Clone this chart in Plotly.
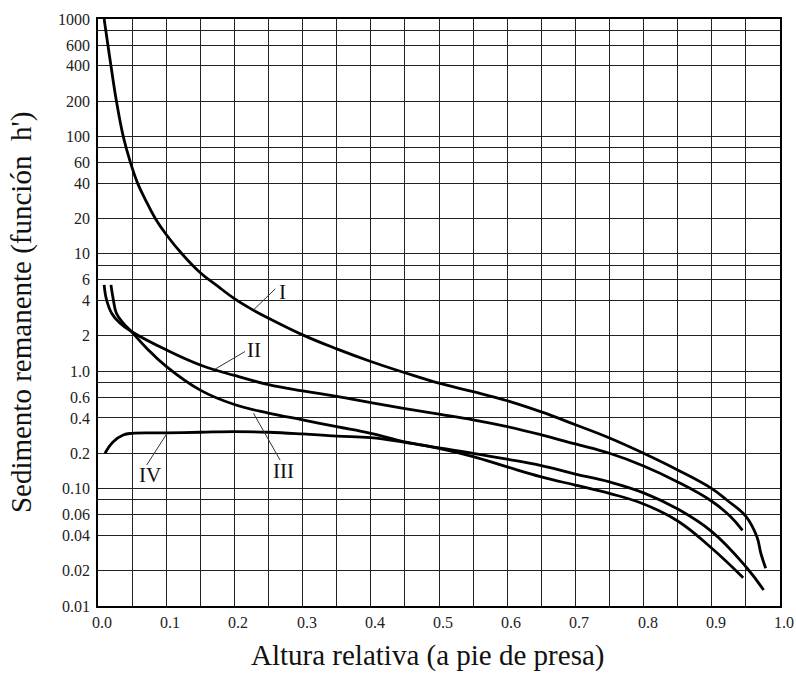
import math
import plotly.graph_objects as go

# ---------------- data ----------------
x_I = [0.009, 0.0145, 0.019, 0.027, 0.037, 0.0475, 0.058, 0.0694, 0.084, 0.1, 0.123,
       0.15, 0.176, 0.2, 0.225, 0.25, 0.3, 0.35, 0.4, 0.45, 0.5, 0.55, 0.6, 0.65, 0.7, 0.75,
       0.8, 0.85, 0.9, 0.922, 0.95, 0.966, 0.972, 0.979]
y_I = [1000, 600, 400, 200, 100, 60, 40, 29, 20, 14.6, 10,
       6.9, 5.27, 4.15, 3.38, 2.83, 2.04, 1.55, 1.21, 0.97, 0.79, 0.67, 0.56, 0.45, 0.35, 0.27,
       0.2, 0.144, 0.1, 0.08, 0.058, 0.039, 0.028, 0.021]

x_II = [0.009, 0.0125, 0.02, 0.032, 0.049, 0.1, 0.15, 0.2, 0.25, 0.3, 0.35, 0.4, 0.45,
        0.5, 0.55, 0.6, 0.65, 0.7, 0.75, 0.8, 0.85, 0.9, 0.927, 0.945]
y_II = [5.44, 4.06, 3.12, 2.57, 2.18, 1.52, 1.13, 0.92, 0.77, 0.68, 0.61, 0.54, 0.48,
        0.43, 0.385, 0.337, 0.287, 0.24, 0.20, 0.156, 0.114, 0.078, 0.058, 0.044]

x_III = [0.019, 0.0225, 0.027, 0.037, 0.049, 0.07, 0.1, 0.15, 0.2, 0.25, 0.3, 0.35, 0.4,
         0.45, 0.5, 0.55, 0.6, 0.65, 0.7, 0.75, 0.8, 0.85, 0.9, 0.946]
y_III = [5.44, 4.06, 3.12, 2.57, 2.18, 1.6, 1.1, 0.69, 0.52, 0.44, 0.385, 0.337, 0.296,
         0.25, 0.22, 0.187, 0.153, 0.126, 0.107, 0.091, 0.074, 0.053, 0.031, 0.0174]

x_IV = [0.0103, 0.022, 0.037, 0.05, 0.1, 0.15, 0.2, 0.25, 0.3, 0.35, 0.4, 0.45, 0.5,
        0.55, 0.6, 0.65, 0.7, 0.75, 0.8, 0.85, 0.9, 0.95, 0.976]
y_IV = [0.2, 0.25, 0.286, 0.296, 0.298, 0.302, 0.306, 0.302, 0.292, 0.28, 0.272, 0.248, 0.222,
        0.2, 0.178, 0.157, 0.133, 0.114, 0.092, 0.067, 0.043, 0.0216, 0.0137]

curve_names = ["I", "II", "III", "IV"]
label_x = [0.2706, 0.228, 0.2717, 0.0762]
label_y = [4.77, 1.52, 0.142, 0.1306]
leader_x = [[0.228, 0.26], [0.1716, 0.2155], [0.228, 0.267], [0.1007, 0.0714]]
leader_y = [[3.33, 5.03], [1.04, 1.47], [0.438, 0.175], [0.292, 0.159]]

x_ticks = [round(i * 0.05, 2) for i in range(21)]
x_labels = [round(i * 0.1, 1) for i in range(11)]
y_ticks = [1000, 800, 600, 400, 200, 100, 80, 60, 40, 20, 10, 8, 6, 4, 2, 1, 0.8, 0.6,
           0.4, 0.2, 0.1, 0.08, 0.06, 0.04, 0.02, 0.01]
y_ticktext = ["1000", "", "600", "400", "200", "100", "", "60", "40", "20", "10", "", "6",
              "4", "2", "1.0", "", "0.6", "0.4", "0.2", "0.10", "", "0.06", "0.04", "0.02", "0.01"]

x_title = "Altura relativa (a pie de presa)"
y_title = "Sedimento remanente (función  h')"

# ---------------- figure ----------------
FONT = "Liberation Serif, Times New Roman, serif"
fig = go.Figure()

for xs, ys in [(x_I, y_I), (x_II, y_II), (x_III, y_III), (x_IV, y_IV)]:
    fig.add_trace(go.Scatter(x=xs, y=ys, mode="lines",
                             line=dict(color="black", width=2.8, shape="spline", smoothing=1.2),
                             showlegend=False, hoverinfo="skip"))

for lx, ly in zip(leader_x, leader_y):
    fig.add_trace(go.Scatter(x=lx, y=ly, mode="lines",
                             line=dict(color="#333", width=1),
                             showlegend=False, hoverinfo="skip"))

annotations = []
for name, lx, ly in zip(curve_names, label_x, label_y):
    annotations.append(dict(x=lx, y=math.log10(ly), xref="x", yref="y", text=name,
                            showarrow=False, font=dict(family=FONT, size=21, color="#111")))

# x tick labels (drawn slightly right of their grid lines, as in the original)
for v in x_labels:
    annotations.append(dict(x=v, y=0, xref="x", yref="paper", text="%.1f" % v,
                            showarrow=False, xanchor="center", yanchor="top",
                            xshift=4, yshift=-6,
                            font=dict(family=FONT, size=16, color="#222")))

annotations.append(dict(x=0.483, y=-0.085, xref="paper", yref="paper", text=x_title,
                        showarrow=False, xanchor="center", yanchor="middle",
                        font=dict(family=FONT, size=29, color="#111")))
annotations.append(dict(x=-0.112, y=0.5, xref="paper", yref="paper", text=y_title,
                        showarrow=False, xanchor="center", yanchor="middle", textangle=-90,
                        font=dict(family=FONT, size=29, color="#111")))

fig.update_layout(
    width=796, height=673,
    margin=dict(l=98, r=16, t=19, b=67),
    paper_bgcolor="white", plot_bgcolor="white",
    font=dict(family=FONT, size=16, color="#222"),
    annotations=annotations,
)
fig.update_xaxes(range=[0, 1], tickvals=x_ticks, showticklabels=False, ticks="",
                 showgrid=True, gridcolor="#222", gridwidth=1.2, zeroline=False,
                 showline=True, linecolor="black", linewidth=1.5, mirror=True)
fig.update_yaxes(type="log", range=[-2, 3], tickvals=y_ticks, ticktext=y_ticktext, ticks="",
                 showgrid=True, gridcolor="#222", gridwidth=1.2, zeroline=False,
                 showline=True, linecolor="black", linewidth=1.5, mirror=True,
                 ticklabelstandoff=3, tickfont=dict(family=FONT, size=16, color="#222"))

fig.write_html("out.html")
